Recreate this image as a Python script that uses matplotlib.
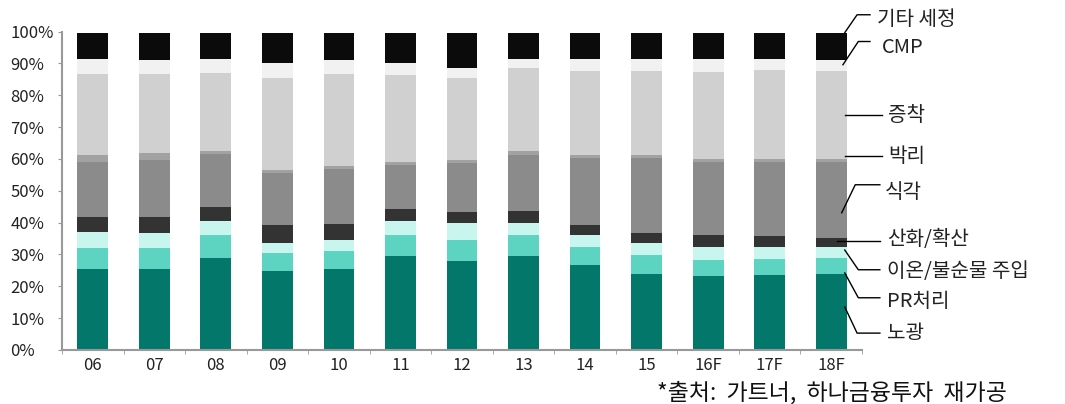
import numpy as np
import matplotlib
matplotlib.use("Agg")
import matplotlib.pyplot as plt

plt.rcParams['font.family'] = ['Noto Sans CJK KR', 'DejaVu Sans']

# %% Data (share of each process step, %)

years = ['06', '07', '08', '09', '10', '11', '12', '13', '14', '15', '16F', '17F', '18F']

exposure = [25.4, 25.4, 29.0, 24.8, 25.4, 29.6, 27.8, 29.6, 26.7, 23.9, 23.1, 23.6, 23.9]   # 노광
pr = [6.5, 6.5, 7.2, 5.8, 5.7, 6.6, 6.8, 6.6, 5.5, 6.0, 5.2, 4.9, 4.9]                      # PR처리
ion = [5.2, 4.8, 4.2, 3.1, 3.5, 4.2, 5.2, 3.6, 4.0, 3.8, 4.2, 4.0, 3.5]                     # 이온/불순물 주입
oxidation = [4.8, 5.2, 4.5, 5.6, 4.9, 3.8, 3.4, 4.0, 3.1, 3.0, 3.7, 3.3, 2.8]               # 산화/확산
etch = [17.3, 17.8, 16.7, 16.3, 17.4, 14.0, 15.5, 17.6, 21.0, 23.6, 22.8, 23.2, 23.9]       # 식각
strip = [2.1, 2.1, 1.0, 1.0, 1.0, 1.0, 1.0, 1.0, 1.0, 1.0, 1.0, 1.0, 1.0]                   # 박리
deposition = [25.4, 24.9, 24.4, 28.8, 28.8, 27.3, 25.7, 26.2, 26.2, 26.2, 27.2, 27.8, 27.5] # 증착
cmp = [4.8, 4.5, 4.4, 4.7, 4.3, 3.6, 3.2, 2.8, 3.9, 3.9, 4.2, 3.6, 3.7]                     # CMP
cleaning = [8.1, 8.4, 8.2, 9.5, 8.6, 9.5, 11.0, 8.2, 8.2, 8.2, 8.2, 8.2, 8.4]               # 기타 세정

series = [exposure, pr, ion, oxidation, etch, strip, deposition, cmp, cleaning]
colors = ['#02776a', '#5dd3c1', '#c8f6ef', '#333333', '#8b8b8b',
          '#a2a2a2', '#d0d0d0', '#f1f1f1', '#0b0b0b']

# label, leader-line path (x in category units, y in %), text position
labels = [
    ('기타 세정', [(12.22, 99.7), (12.42, 105.3), (12.63, 105.3)], (12.75, 103.8)),
    ('CMP', [(12.19, 89.6), (12.44, 96.9), (12.63, 96.9)], (12.82, 95.0)),
    ('증착', [(12.22, 73.9), (12.82, 73.9)], (12.92, 73.6)),
    ('박리', [(12.22, 61.0), (12.82, 61.0)], (12.92, 60.7)),
    ('식각', [(12.17, 43.1), (12.39, 51.9), (12.79, 51.9)], (12.87, 49.4)),
    ('산화/확산', [(12.10, 34.3), (12.79, 34.3)], (12.91, 34.6)),
    ('이온/불순물 주입', [(12.22, 31.4), (12.44, 25.2), (12.79, 25.2)], (12.91, 24.5)),
    ('PR처리', [(12.22, 24.2), (12.44, 16.4), (12.79, 16.4)], (12.91, 15.1)),
    ('노광', [(12.22, 13.5), (12.42, 5.3), (12.79, 5.3)], (12.91, 5.3)),
]

# %% Plot

fig = plt.figure(figsize=(10.65, 4.04), dpi=100)
ax = fig.add_axes([0.0582, 0.1337, 0.7512, 0.788])

x = np.arange(len(years))
bottom = np.zeros(len(years))
for vals, c in zip(series, colors):
    ax.bar(x, vals, width=0.5, bottom=bottom, color=c, edgecolor='none')
    bottom += np.array(vals)

ax.set_xlim(-0.5, len(years) - 0.5)
ax.set_ylim(0, 100)

ax.set_yticks(np.arange(0, 101, 10))
ax.set_yticklabels([f'{v}%' for v in range(0, 101, 10)], fontsize=12, color='#222222')
for lab in ax.get_yticklabels():
    lab.set_horizontalalignment('left')
ax.tick_params(axis='y', length=3, color='#999999', pad=34)

ax.set_xticks(x)
ax.set_xticklabels(years, fontsize=12, color='#222222')
ax.set_xticks(np.arange(-0.5, len(years)), minor=True)
ax.tick_params(axis='x', which='major', length=0, pad=5)
ax.tick_params(axis='x', which='minor', length=3, color='#999999')

for s in ['top', 'right']:
    ax.spines[s].set_visible(False)
for s in ['left', 'bottom']:
    ax.spines[s].set_color('#999999')
    ax.spines[s].set_linewidth(1.5)

for text, path, (tx, ty) in labels:
    px, py = zip(*path)
    ax.plot(px, py, color='black', lw=1, clip_on=False)
    ax.text(tx, ty, text, fontsize=14.5, va='center', ha='left', color='#222222', clip_on=False)

fig.text(0.617, 0.028, '*출처:  가트너,  하나금융투자  재가공', fontsize=16.5, color='#111111',
         ha='left', va='center')

plt.savefig('out.png', dpi=100)
